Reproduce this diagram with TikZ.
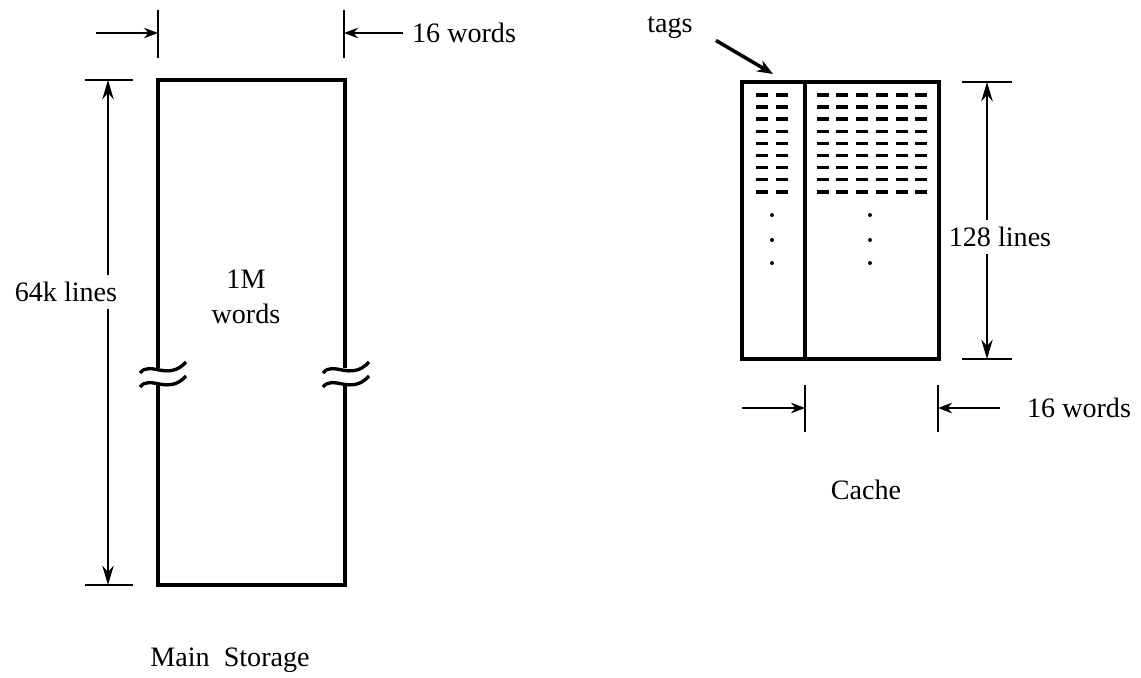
\documentclass[tikz,border=0pt]{standalone}
\usepackage{fontspec}
\setmainfont{Liberation Serif}
\usetikzlibrary{arrows.meta}

\begin{document}
\begin{tikzpicture}[
    x=0.02cm, y=-0.02cm,
    box/.style={line width=1.9pt},
    tick/.style={line width=1.4pt},
    dimarrow/.style={line width=1.2pt, -{Stealth[length=8pt,width=6pt]}},
    dimboth/.style={line width=1.3pt,
        {Stealth[length=11pt,width=6.5pt]}-{Stealth[length=11pt,width=6.5pt]}},
    tagarrow/.style={line width=2pt, -{Stealth[length=9pt,width=7pt]}},
    lbl/.style={font=\fontsize{16}{18}\selectfont, inner sep=1pt},
    gaplbl/.style={lbl, fill=white, inner xsep=1pt, inner ysep=4pt},
    entry/.style={line width=2pt},
    brk/.style={line width=1.9pt}
]
\useasboundingbox (0,0) rectangle (1141,678);

% Main storage block (broken at the waves)
\coordinate (ms-nw) at (158,80);
\coordinate (ms-ne) at (345,80);
\coordinate (ms-sw) at (158,585);
\coordinate (ms-se) at (345,585);
\draw[box] (158,368) -- (ms-nw) -- (ms-ne) -- (345,368);
\draw[box] (158,384) -- (ms-sw) -- (ms-se) -- (345,384);
\foreach \cx in {162,345}
  \foreach \cy in {369,383}
    \draw[brk] (\cx-22,\cy+4) .. controls (\cx-12,\cy-9) and (\cx+6,\cy+13) .. (\cx+24,\cy-7);

\node[lbl, align=center] (ms-text) at (246,297) {1M\\[2pt]words};
\node[lbl] (ms-name) at (230,660) {Main\ \ Storage};

% Width of main storage
\draw[tick] (158,10) -- (158,58);
\draw[tick] (344,10) -- (344,58);
\coordinate (ms-wl) at (96,33);
\coordinate (ms-wr) at (403,33);
\draw[dimarrow] (ms-wl) -- (158,33);
\draw[dimarrow] (ms-wr) -- (344,33);
\node[lbl, anchor=west] (ms-width) at (410,33) {16 words};

% Height of main storage
\draw[tick] (85,80) -- (133,80);
\draw[tick] (85,585) -- (133,585);
\draw[dimboth] (108,80) -- (108,585);
\node[gaplbl] (ms-height) at (66,292) {64k lines};

% Cache block
\coordinate (c-nw) at (742,82);
\coordinate (c-se) at (939,359);
\draw[box] (c-nw) rectangle (c-se);
\draw[box] (805,82) -- (805,359);

% tag and data entries
\foreach \row in {0,...,8} {
  \foreach \cx in {762,782}
    \draw[entry] (\cx-6,95+12.1*\row) -- (\cx+6,95+12.1*\row);
  \foreach \cx in {823,842,862,882,902,921}
    \draw[entry] (\cx-6,95+12.1*\row) -- (\cx+6,95+12.1*\row);
}
\foreach \cy in {215,240,263} {
  \fill (772,\cy) circle (2);
  \fill (870,\cy) circle (2);
}

\node[lbl] (c-name) at (866,490) {Cache};

% tags pointer
\node[lbl] (tags) at (670,28) {tags};
\coordinate (tag-tip) at (773,74);
\draw[tagarrow, shorten <=14pt] (tags.east) -- (tag-tip);

% Height of cache
\draw[tick] (962,82) -- (1012,82);
\draw[tick] (962,359) -- (1012,359);
\draw[dimboth] (987,82) -- (987,359);
\node[gaplbl] (c-height) at (1000,237) {128 lines};

% Width of cache data
\draw[tick] (805,385) -- (805,432);
\draw[tick] (938,385) -- (938,432);
\coordinate (c-wl) at (742,408);
\coordinate (c-wr) at (1000,408);
\draw[dimarrow] (c-wl) -- (805,408);
\draw[dimarrow] (c-wr) -- (938,408);
\node[lbl, anchor=west] (c-width) at (1025,408) {16 words};

\end{tikzpicture}
\end{document}
